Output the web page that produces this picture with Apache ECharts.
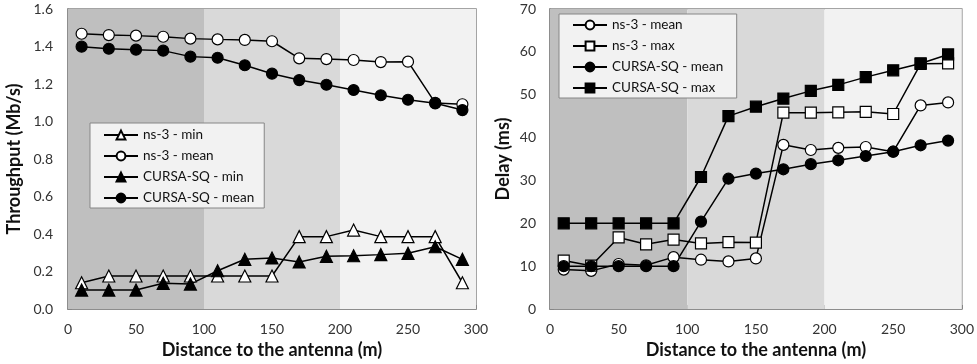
<!DOCTYPE html>
<html><head><meta charset="utf-8">
<script src="https://cdn.jsdelivr.net/npm/echarts@6/dist/echarts.min.js"></script>
<style>html,body{margin:0;padding:0;background:#fff}#c{width:977px;height:364px}</style>
</head><body><div id="c"></div>
<script>
const distances = [10,30,50,70,90,110,130,150,170,190,210,230,250,270,290];
// (a) Throughput (Mb/s)
const ns3Min = [0.140,0.176,0.176,0.176,0.176,0.176,0.176,0.176,0.386,0.386,0.421,0.386,0.386,0.386,0.140];
const ns3MeanThr = [1.468,1.461,1.458,1.452,1.442,1.438,1.435,1.428,1.337,1.333,1.328,1.317,1.319,1.099,1.092];
const cursaMin = [0.101,0.101,0.101,0.137,0.133,0.204,0.265,0.272,0.251,0.281,0.284,0.290,0.297,0.332,0.265];
const cursaMeanThr = [1.399,1.388,1.383,1.378,1.346,1.340,1.300,1.255,1.221,1.196,1.168,1.140,1.116,1.097,1.061];
// (b) Delay (ms)
const ns3MeanDelay = [9.2,8.9,10.5,10.2,12.1,11.5,11.1,11.8,38.3,37.1,37.6,37.8,36.7,47.5,48.2];
const ns3MaxDelay = [11.3,10.1,16.7,15.1,16.2,15.3,15.6,15.5,45.8,45.8,45.9,46.0,45.5,57.2,57.3];
const cursaMeanDelay = [10.0,10.0,10.0,10.0,10.0,20.4,30.4,31.6,32.6,33.8,34.7,35.7,36.7,38.2,39.3];
const cursaMaxDelay = [20.0,20.0,20.0,20.0,20.0,30.8,45.0,47.2,49.1,50.9,52.3,54.1,55.7,57.3,59.4];
const zones = [[0,100,'#bfbfbf'],[100,200,'#d9d9d9'],[200,300,'#f2f2f2']];

const FONT = 'Lato';
const zip = a => distances.map((d,i)=>[d,a[i]]);
function ser(name, data, sym, filled, gi, withZones){
  const s = {
    name, type:'line', xAxisIndex:gi, yAxisIndex:gi, data:zip(data),
    symbol:sym, symbolSize: sym==='triangle'?12:11,
    lineStyle:{color:'#000',width:1.5},
    itemStyle:{color: filled?'#000':'#fff', borderColor:'#000', borderWidth:1.2},
    emphasis:{disabled:true}, animation:false, z:5
  };
  if(withZones){
    s.markArea = {silent:true, itemStyle:{opacity:1}, data: zones.map(z=>[{xAxis:z[0],itemStyle:{color:z[2]}},{xAxis:z[1]}])};
  }
  return s;
}
const axisLbl = {color:'#333', fontFamily:FONT, fontSize:14};
const nameStyle = {fontFamily:FONT, fontWeight:'bold', fontSize:18, color:'#111'};
function xAx(gi){return {type:'value', gridIndex:gi, min:0, max:300, interval:50,
  name:'Distance to the antenna (m)', nameLocation:'middle', nameGap:32,
  nameTextStyle:nameStyle,
  axisLine:{lineStyle:{color:'#868686',width:1.5}}, axisTick:{inside:true,length:4,lineStyle:{color:'#868686'}},
  axisLabel:Object.assign({margin:13},axisLbl), splitLine:{show:false}};}
const legendCommon = {orient:'vertical', backgroundColor:'#f2f2f2', borderColor:'#868686', borderWidth:1,
  itemGap:7, itemWidth:34, itemHeight:11, itemTextGap:3,
  textStyle:{fontFamily:FONT, fontSize:13.5, lineHeight:14, color:'#111'}};
const chart = echarts.init(document.getElementById('c'), null, {renderer:'canvas'});
chart.setOption({
  animation:false,
  grid:[
    {left:68, top:9, width:408, height:300, show:true, borderColor:'#868686', borderWidth:1.5, backgroundColor:'transparent'},
    {left:550, top:9, width:413, height:300, show:true, borderColor:'#868686', borderWidth:1.5, backgroundColor:'transparent'}
  ],
  xAxis:[xAx(0), xAx(1)],
  yAxis:[
    {type:'value', gridIndex:0, min:0, max:1.6, interval:0.2,
     name:'Throughput (Mb/s)', nameLocation:'middle', nameGap:45, nameTextStyle:nameStyle,
     axisLine:{show:true,lineStyle:{color:'#868686',width:1.5}}, axisTick:{show:true,inside:true,length:4,lineStyle:{color:'#868686'}},
     axisLabel:Object.assign({margin:15, formatter:v=>v.toFixed(1)},axisLbl), splitLine:{show:false}},
    {type:'value', gridIndex:1, min:0, max:70, interval:10,
     name:'Delay (ms)', nameLocation:'middle', nameGap:38, nameTextStyle:nameStyle,
     axisLine:{show:true,lineStyle:{color:'#868686',width:1.5}}, axisTick:{show:true,inside:true,length:4,lineStyle:{color:'#868686'}},
     axisLabel:Object.assign({margin:14},axisLbl), splitLine:{show:false}}
  ],
  legend:[
    Object.assign({left:90, top:123, padding:[5,10,3,13],
     data:['ns-3 - min','ns-3 - mean','CURSA-SQ - min','CURSA-SQ - mean']}, legendCommon),
    Object.assign({left:559, top:14, padding:[4,10,3,13],
     data:['ns-3 - mean ','ns-3 - max','CURSA-SQ - mean ','CURSA-SQ - max']}, legendCommon)
  ],
  graphic:[
    {type:'text', left:430, top:23, style:{text:'(a)', font:'bold 18px '+FONT, fill:'#000'}},
    {type:'text', left:897, top:23, style:{text:'(b)', font:'bold 18px '+FONT, fill:'#000'}}
  ],
  series:[
    ser('ns-3 - min', ns3Min, 'triangle', false, 0, true),
    ser('ns-3 - mean', ns3MeanThr, 'circle', false, 0, false),
    ser('CURSA-SQ - min', cursaMin, 'triangle', true, 0, false),
    ser('CURSA-SQ - mean', cursaMeanThr, 'circle', true, 0, false),
    ser('ns-3 - mean ', ns3MeanDelay, 'circle', false, 1, true),
    ser('ns-3 - max', ns3MaxDelay, 'rect', false, 1, false),
    ser('CURSA-SQ - mean ', cursaMeanDelay, 'circle', true, 1, false),
    ser('CURSA-SQ - max', cursaMaxDelay, 'rect', true, 1, false)
  ]
});
</script></body></html>
